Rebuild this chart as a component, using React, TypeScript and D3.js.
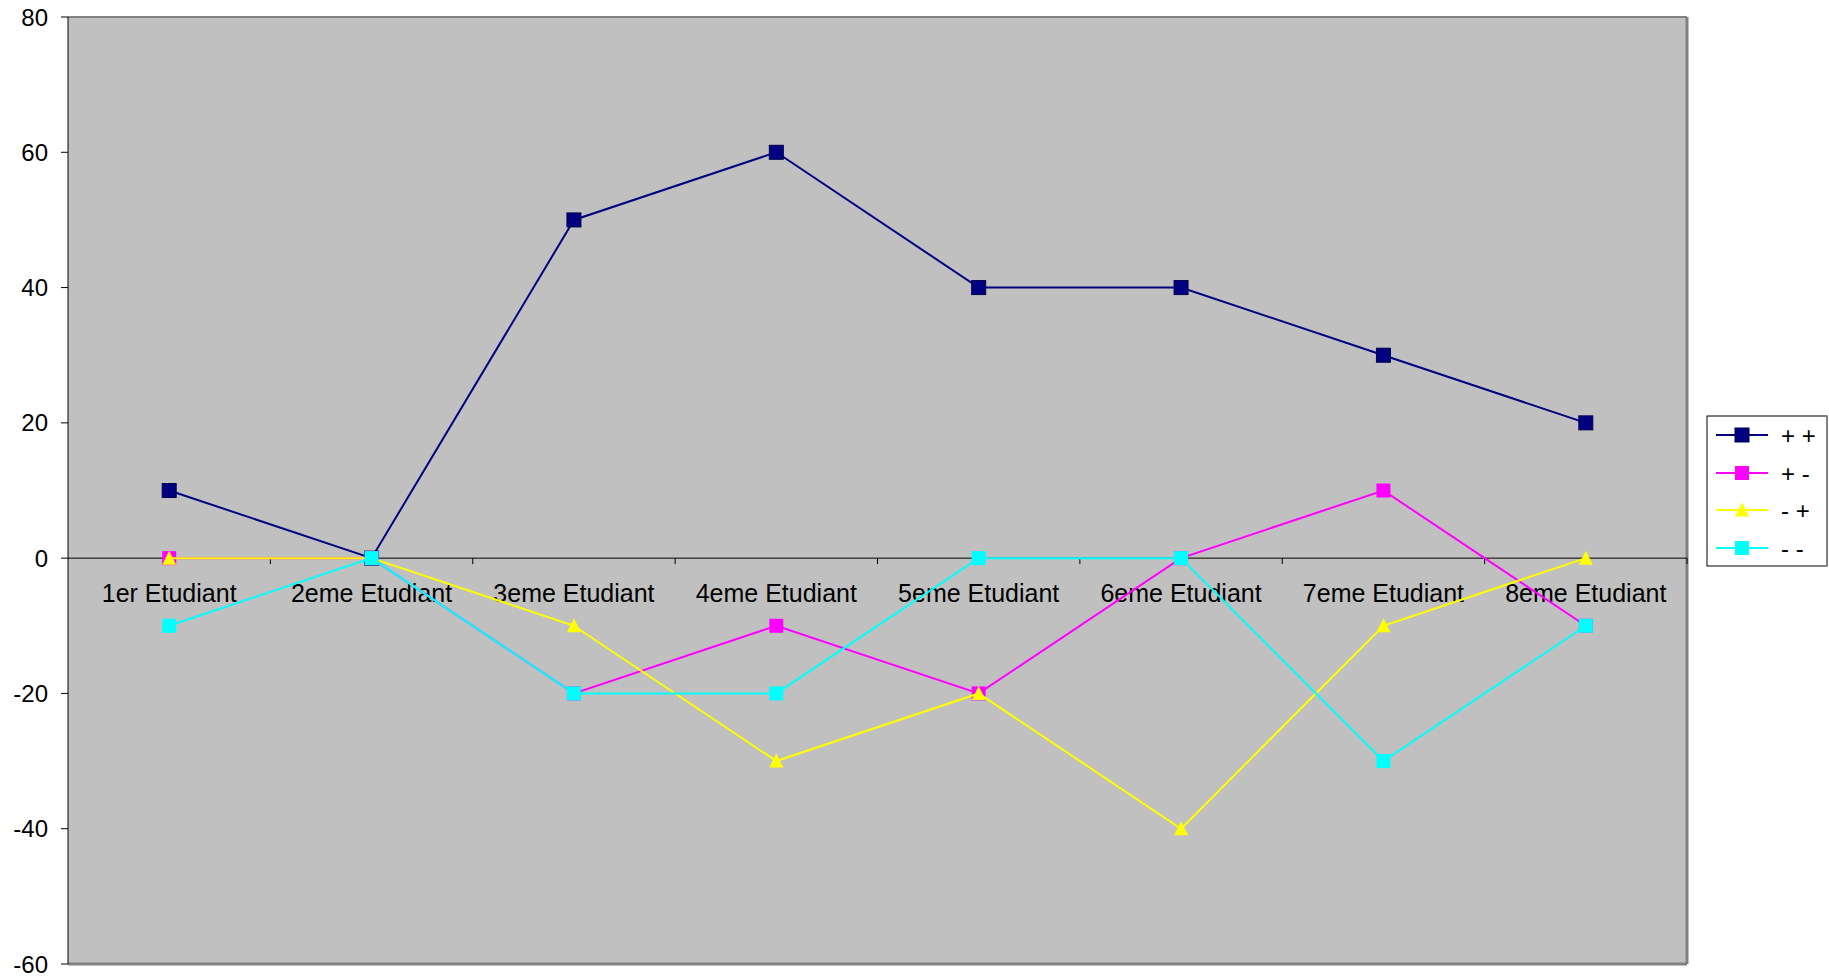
import React from "react";
import * as d3 from "d3";

const categories = ["1er Etudiant", "2eme Etudiant", "3eme Etudiant", "4eme Etudiant", "5eme Etudiant", "6eme Etudiant", "7eme Etudiant", "8eme Etudiant"];
const seriesNames = ["+ +", "+ -", "- +", "- -"];
const plusPlus = [10, 0, 50, 60, 40, 40, 30, 20];
const plusMinus = [0, 0, -20, -10, -20, 0, 10, -10];
const minusPlus = [0, 0, -10, -30, -20, -40, -10, 0];
const minusMinus = [-10, 0, -20, -20, 0, 0, -30, -10];
const yTicks = [-60, -40, -20, 0, 20, 40, 60, 80];

const colors = ["#000080", "#FF00FF", "#FFFF00", "#00FFFF"];
const shapes = ["square", "square", "triangle", "square"];

const W = 1829, H = 979;
const L = 68, R = 1687, T = 17, B = 964;

function Marker({ x, y, shape, color, stroke }: { x: number; y: number; shape: string; color: string; stroke?: string }) {
  const s = 14;
  if (shape === "triangle") {
    const h = 13;
    return <path d={`M${x},${y - h / 2 - 1}L${x + s / 2},${y + h / 2}L${x - s / 2},${y + h / 2}Z`} fill={color} />;
  }
  return <rect x={x - s / 2} y={y - s / 2} width={s} height={s} fill={color} stroke={stroke || "none"} strokeWidth={stroke ? 1 : 0} />;
}

export default function App() {
  const data = [plusPlus, plusMinus, minusPlus, minusMinus];
  const x = d3.scaleBand<string>().domain(categories).range([L, R]);
  const y = d3.scaleLinear().domain([-60, 80]).range([B, T]);
  const cx = (c: string) => (x(c) as number) + x.bandwidth() / 2;
  const line = d3.line<number>().x((_, i) => cx(categories[i])).y((v) => y(v));
  const font = "'Liberation Sans', Arial, sans-serif";
  const legendY = [435, 473, 510, 548];

  return (
    <svg width={W} height={H} style={{ position: "absolute", left: 0, top: 0, background: "#fff" }} fontFamily={font}>
      <rect x={L} y={T} width={R - L} height={B - T} fill="#C0C0C0" />
      {/* frame */}
      <line x1={L} y1={T} x2={R} y2={T} stroke="#808080" strokeWidth={2} />
      <line x1={R} y1={T} x2={R} y2={B} stroke="#808080" strokeWidth={3} />
      <line x1={L} y1={B} x2={R} y2={B} stroke="#808080" strokeWidth={3} />
      <line x1={L} y1={T} x2={L} y2={B} stroke="#000" strokeWidth={1} />
      {/* y ticks */}
      {yTicks.map((t) => (
        <g key={t}>
          <line x1={L - 7} x2={L} y1={y(t)} y2={y(t)} stroke="#000" strokeWidth={1} />
          <text x={L - 20} y={y(t)} dy="0.36em" textAnchor="end" fontSize={24} fill="#000">{t}</text>
        </g>
      ))}
      {/* zero axis */}
      <line x1={L} x2={R} y1={y(0)} y2={y(0)} stroke="#000" strokeWidth={1} />
      {categories.map((c, i) => (
        <line key={"t" + i} x1={(x(c) as number) + x.bandwidth()} x2={(x(c) as number) + x.bandwidth()} y1={y(0)} y2={y(0) + 6} stroke="#000" strokeWidth={1} />
      ))}
      {categories.map((c) => (
        <text key={c} x={cx(c)} y={y(0) + 44} textAnchor="middle" fontSize={25} fill="#000">{c}</text>
      ))}
      {/* series */}
      {data.map((vals, si) => (
        <g key={si}>
          <path d={line(vals) || ""} fill="none" stroke={colors[si]} strokeWidth={2} />
          {vals.map((v, i) => (
            <Marker key={i} x={cx(categories[i])} y={y(v)} shape={shapes[si]} color={colors[si]} stroke={si === 0 ? "#000050" : undefined} />
          ))}
        </g>
      ))}
      {/* legend */}
      <rect x={1707} y={416} width={120} height={150} fill="#fff" stroke="#000" strokeWidth={1} />
      <line x1={1827} y1={416} x2={1827} y2={566} stroke="#808080" strokeWidth={2} />
      {seriesNames.map((n, i) => (
        <g key={n}>
          <line x1={1716} x2={1768} y1={legendY[i]} y2={legendY[i]} stroke={colors[i]} strokeWidth={2} />
          <Marker x={1742} y={legendY[i]} shape={shapes[i]} color={colors[i]} stroke={i === 0 ? "#000050" : undefined} />
          <text x={1781} y={legendY[i]} dy="0.36em" fontSize={24} fill="#000">{n}</text>
        </g>
      ))}
    </svg>
  );
}
